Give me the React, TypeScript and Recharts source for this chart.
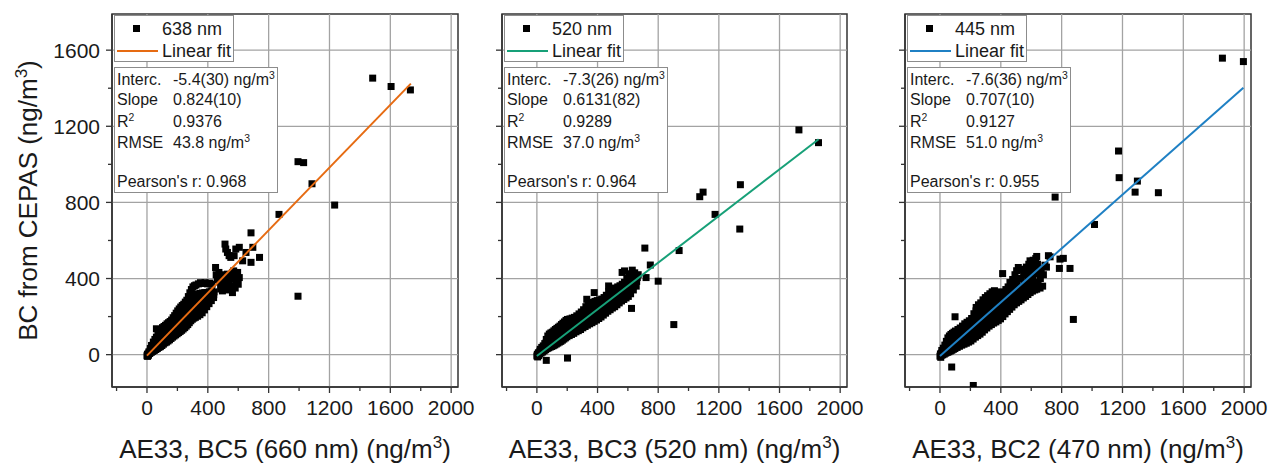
import React from 'react';
import { ScatterChart, Scatter, XAxis, YAxis, ReferenceLine, ReferenceArea } from 'recharts';

type Pt = [number, number];

const FONT = '"Liberation Sans", Arial, sans-serif';

// ---------- axis settings ----------
const X_DOMAIN: [number, number] = [-230, 2045];
const Y_DOMAIN: [number, number] = [-170, 1790];
const xTicks = [-200, 0, 200, 400, 600, 800, 1000, 1200, 1400, 1600, 1800, 2000];
const yTicks = [0, 200, 400, 600, 800, 1000, 1200, 1400, 1600];
const xMajor = [0, 400, 800, 1200, 1600, 2000];
const yMajor = [0, 400, 800, 1200, 1600];

// ---------- data: 638 nm vs BC5 ----------
const pts638: Pt[] = [
  [0,-6],[3,2],[4,-9],[8,4],[10,-3],[12,14],[18,6],[20,18],[22,32],[28,12],[31,28],[30,48],
  [38,17],[41,35],[40,50],[42,66],[48,22],[50,44],[51,62],[52,80],[58,27],[61,52],[60,72],[62,92],[62,136],
  [68,32],[69,48],[70,62],[71,84],[72,104],[78,38],[79,56],[81,74],[80,98],[82,120],
  [88,42],[89,62],[90,84],[91,108],[92,132],[98,48],[99,70],[101,94],[100,118],[102,142],
  [108,55],[109,78],[110,104],[111,126],[112,148],[118,62],[119,86],[121,112],[120,134],[122,154],
  [128,66],[129,92],[131,122],[130,142],[132,162],[138,72],[139,100],[140,130],[141,150],[142,168],
  [148,78],[149,108],[151,138],[150,158],[152,174],[158,85],[159,115],[160,146],[161,165],[162,182],
  [168,92],[169,122],[171,154],[170,175],[172,194],[178,98],[179,130],[180,162],[181,185],[182,205],
  [188,104],[189,136],[191,170],[190,195],[192,218],[198,110],[199,144],[200,178],[201,205],[202,230],
  [208,116],[209,150],[211,186],[210,214],[212,240],[218,122],[219,158],[220,194],[221,222],[222,250],
  [228,128],[229,165],[231,202],[230,230],[232,258],[238,135],[239,172],[240,210],[241,238],[242,265],
  [248,142],[249,180],[251,218],[250,248],[252,276],[258,150],[259,188],[260,226],[261,256],[262,286],
  [268,158],[269,196],[271,236],[270,270],[272,305],[278,168],[279,206],[280,246],[281,285],[282,325],
  [288,178],[289,216],[291,256],[290,300],[292,342],[298,186],[299,224],[300,262],[301,310],[302,356],
  [308,192],[309,230],[311,270],[310,315],[312,362],[318,196],[319,236],[320,276],[321,318],[322,366],
  [333,202],[334,240],[336,280],[335,318],[338,372],[348,210],[349,248],[351,288],[350,322],[352,378],
  [363,220],[364,256],[366,294],[365,324],[368,374],[378,235],[379,266],[381,300],[380,326],[382,378],
  [393,252],[394,278],[396,306],[395,326],[398,372],[408,268],[409,290],[411,312],[410,330],[412,376],
  [423,284],[424,300],[426,318],[425,334],[428,370],[438,300],[439,315],[441,330],
  [451,458],[455,420],[462,395],[470,400],[473,432],[480,380],[484,345],[490,360],[496,414],[496,335],
  [500,395],[505,370],[507,396],[510,420],[515,360],[520,400],[520,340],[529,423],[530,380],[540,388],
  [540,405],[545,355],[550,420],[560,400],[562,432],[562,326],[570,440],[573,361],[575,410],[580,350],
  [584,379],[585,420],[590,400],[595,395],[596,432],[600,370],[607,405],
  [513,581],[518,555],[529,537],[540,520],[551,511],[573,520],[584,555],[607,564],[629,493],
  [651,537],[684,485],[684,640],[696,564],[740,511],
  [868,737],[993,1014],[1030,1009],[1085,898],[1234,786],[993,307],[1484,1453],[1605,1409],[1732,1391],
];
const fit638: Pt[] = [[0, -5.4], [1735, 1424]];

// ---------- data: 520 nm vs BC3 ----------
const pts520: Pt[] = [
  [0,-7],[3,2],[5,-12],[8,0],[10,10],[12,-5],[18,4],[20,18],[22,28],[28,9],[31,22],[32,38],
  [38,14],[40,30],[42,46],[48,20],[51,36],[52,58],[58,26],[60,44],[61,62],[62,80],[62,-30],
  [68,32],[70,50],[71,74],[72,98],[78,36],[81,58],[80,84],[82,108],[88,40],[90,66],[91,90],[92,114],
  [98,43],[101,74],[100,96],[102,118],[108,47],[109,66],[111,82],[110,104],[112,125],
  [118,51],[119,70],[121,88],[120,110],[122,132],[128,56],[129,75],[131,94],[130,116],[132,138],
  [138,61],[139,80],[141,100],[140,122],[142,144],[148,66],[149,86],[151,106],[150,128],[152,150],
  [158,70],[159,90],[161,112],[160,135],[162,158],[168,76],[169,96],[171,118],[170,142],[172,165],
  [178,82],[179,102],[181,124],[180,148],[182,172],[188,88],[189,108],[191,130],[190,155],[192,180],
  [198,94],[199,114],[201,136],[200,160],[202,185],[202,-18],
  [213,100],[214,120],[216,142],[215,165],[218,188],[228,106],[229,126],[231,148],[230,170],[233,192],
  [243,112],[244,132],[246,154],[245,175],[248,196],[258,120],[259,140],[261,160],[260,182],[263,204],
  [273,126],[274,146],[276,166],[275,190],[278,214],[288,132],[289,152],[291,172],[290,198],[293,224],
  [303,141],[304,160],[306,180],[305,208],[308,236],[318,148],[319,168],[321,188],[320,220],[323,252],
  [333,155],[334,175],[336,196],[335,228],[338,262],[348,162],[349,182],[351,204],[350,236],[353,270],
  [329,291],[363,168],[364,190],[366,212],[365,244],[368,275],
  [378,175],[379,198],[381,220],[380,250],[383,280],[378,326],[393,182],[394,205],[396,228],[395,256],[398,284],
  [408,190],[409,212],[411,236],[410,262],[413,288],[423,198],[424,220],[426,244],[425,268],[428,292],
  [438,208],[439,230],[441,252],[440,276],[443,300],[453,218],[454,240],[456,260],[455,286],[458,312],
  [468,228],[469,248],[471,268],[470,300],[473,330],[473,361],
  [483,236],[484,256],[486,276],[485,306],[488,336],[498,245],[499,265],[501,284],[500,314],[503,342],
  [513,252],[514,272],[516,292],[515,320],[518,350],[528,262],[529,282],[531,300],[530,328],[533,356],
  [543,272],[544,292],[546,310],[545,336],[548,362],
  [558,282],[559,300],[561,320],[560,345],[563,370],[562,432],
  [573,290],[574,310],[576,330],[575,355],[578,380],[578,440],
  [588,298],[589,320],[591,345],[590,372],[593,400],
  [603,306],[604,330],[606,360],[605,390],[610,410],[608,425],
  [618,320],[619,345],[621,375],[620,400],[624,243],[629,444],
  [636,340],[637,362],[640,385],[641,410],[645,430],[651,388],
  [655,360],[658,385],[662,405],[668,420],
  [712,560],[748,471],[720,405],[800,386],[903,158],[938,547],[1096,854],[1074,830],
  [1342,893],[1175,737],[1338,660],[1728,1181],[1857,1114],
];
const fit520: Pt[] = [[0, -7.3], [1858, 1132]];

// ---------- data: 445 nm vs BC2 ----------
const pts445: Pt[] = [
  [0,-8],[3,4],[5,-14],[8,-4],[10,8],[12,22],[18,-1],[20,16],[22,34],[28,3],[31,24],[32,50],
  [38,8],[39,20],[40,32],[41,50],[42,70],[48,12],[49,26],[51,40],[50,62],[52,88],
  [58,15],[59,30],[61,48],[60,72],[62,98],[68,19],[69,36],[71,56],[70,80],[72,106],
  [78,23],[79,42],[81,62],[80,88],[82,112],[77,-65],[88,28],[89,48],[91,68],[90,94],[92,118],[99,199],
  [98,32],[99,52],[101,74],[100,100],[102,124],[113,38],[114,60],[116,82],[115,108],[118,132],
  [128,44],[129,66],[131,90],[130,116],[133,140],[143,50],[144,74],[146,98],[145,124],[148,150],
  [158,55],[159,80],[161,106],[160,134],[163,162],[173,60],[174,86],[176,114],[175,142],[178,170],
  [188,66],[189,94],[191,122],[190,150],[193,178],[203,72],[204,100],[206,130],[205,160],[208,190],
  [218,82],[219,110],[221,140],[220,178],[223,215],[219,-162],
  [233,92],[234,120],[236,150],[235,190],[237,230],[238,248],
  [248,100],[249,130],[251,160],[250,200],[252,240],[253,262],
  [263,108],[264,138],[266,170],[265,210],[267,245],[268,272],
  [278,118],[279,148],[281,180],[280,220],[282,255],[283,288],
  [293,130],[294,160],[296,192],[295,230],[297,265],[298,300],
  [308,140],[309,170],[311,202],[310,240],[312,275],[313,310],
  [323,150],[324,180],[326,212],[325,250],[327,285],[328,320],
  [338,158],[339,190],[341,222],[340,260],[342,295],[343,330],
  [353,166],[354,198],[356,232],[355,268],[357,302],[358,336],
  [368,172],[369,205],[371,240],[370,275],[372,305],[373,330],
  [383,180],[384,212],[386,248],[385,280],[387,305],[388,322],
  [398,188],[399,222],[401,256],[400,290],[403,320],[412,426],
  [413,200],[414,232],[416,264],[415,298],[418,330],[428,214],[429,244],[431,272],[430,308],[433,342],
  [443,226],[444,254],[446,282],[445,320],[448,356],[458,238],[459,265],[461,292],[460,335],[460,379],
  [473,250],[474,276],[476,304],[475,350],[478,395],[488,262],[489,290],[491,316],[490,365],[493,420],
  [503,272],[504,300],[506,328],[505,380],[504,441],[518,280],[519,310],[521,340],[520,400],[515,458],
  [533,288],[534,318],[536,352],[535,400],[538,445],[548,298],[549,330],[551,364],[550,420],[548,449],
  [563,306],[564,340],[566,376],[565,420],[568,460],[578,316],[579,350],[581,388],[580,430],[584,475],
  [593,326],[594,360],[596,400],[595,440],[592,493],[608,334],[609,370],[611,412],[610,455],[613,496],
  [623,340],[624,380],[626,424],[625,465],[630,505],[636,344],[637,380],[640,436],[641,475],[636,516],
  [645,380],[658,350],[660,400],[662,430],[665,448],[675,360],[680,420],[690,470],[700,460],[713,520],
  [724,514],[789,502],[811,506],[785,453],[855,453],[877,185],[757,828],[1016,684],
  [1174,1070],[1178,930],[1298,912],[1283,854],[1436,851],[1857,1558],[1995,1540],
];
const fit445: Pt[] = [[0, -7.6], [1995, 1403]];

// ---------- labels ----------
const legendLabels = ['638 nm', '520 nm', '445 nm'];
const xTitles = ['AE33, BC5 (660 nm) (ng/m', 'AE33, BC3 (520 nm) (ng/m', 'AE33, BC2 (470 nm) (ng/m'];
const intercepts = ['-5.4(30)', '-7.3(26)', '-7.6(36)'];
const slopes = ['0.824(10)', '0.6131(82)', '0.707(10)'];
const r2s = ['0.9376', '0.9289', '0.9127'];
const rmses = ['43.8', '37.0', '51.0'];
const pearsons = ['0.968', '0.964', '0.955'];
const fitColors = ['#E66B12', '#17A078', '#1F80C4'];

const toXY = (a: Pt[]) => a.map(([x, y]) => ({ x, y }));

const Square = (p: any) => {
  if (p.cx == null || p.cy == null) return <g />;
  return <rect x={p.cx - 3.5} y={p.cy - 3.5} width={7} height={7} fill="#000" />;
};
const NoShape = () => <g />;

const XTick = (props: any) => {
  const { x, y, payload } = props;
  const v = payload.value;
  const major = v % 400 === 0;
  return (
    <g>
      <line x1={x} x2={x} y1={y} y2={y + (major ? 6 : 4)} stroke="#333" strokeWidth={1.3} />
      {major && (
        <text x={x} y={y + 28} textAnchor="middle" fontSize={21} fill="#1a1a1a" fontFamily={FONT}>
          {v}
        </text>
      )}
    </g>
  );
};

const makeYTick = (showLabels: boolean) => (props: any) => {
  const { x, y, payload } = props;
  const v = payload.value;
  const major = v % 400 === 0;
  return (
    <g>
      <line x1={x - (major ? 6 : 4)} x2={x} y1={y} y2={y} stroke="#333" strokeWidth={1.3} />
      {showLabels && major && (
        <text x={x - 12} y={y + 7.5} textAnchor="end" fontSize={21} fill="#1a1a1a" fontFamily={FONT}>
          {v}
        </text>
      )}
    </g>
  );
};

const Sup = ({ children }: { children: React.ReactNode }) => (
  <span style={{ fontSize: '0.65em', verticalAlign: '0.55em', lineHeight: 0 }}>{children}</span>
);

type PanelProps = {
  idx: number;
  left: number;
  yAxisWidth: number;
  plotWidth: number;
  marginRight: number;
  points: Pt[];
  fit: Pt[];
  showYLabels: boolean;
};

function Panel({ idx, left, yAxisWidth, plotWidth, marginRight, points, fit, showYLabels }: PanelProps) {
  const width = yAxisWidth + plotWidth + marginRight;
  const color = fitColors[idx];
  const boxLeft = yAxisWidth + 2;
  const rowStyle = (top: number): React.CSSProperties => ({
    position: 'absolute',
    top,
    left: 0,
    width: '100%',
    height: 18,
    lineHeight: '18px',
    whiteSpace: 'nowrap',
  });
  return (
    <div style={{ position: 'absolute', left, top: 0, width, height: 463 }}>
      <ScatterChart width={width} height={463} margin={{ top: 14, right: marginRight, bottom: 0, left: 0 }}>
        <XAxis
          type="number"
          dataKey="x"
          domain={X_DOMAIN}
          ticks={xTicks}
          interval={0}
          allowDataOverflow
          height={76}
          tickSize={0}
          tickMargin={0}
          tickLine={false}
          axisLine={{ stroke: '#333', strokeWidth: 1.5 }}
          tick={<XTick />}
          label={(lp: any) => {
            const vb = lp.viewBox || {};
            return (
              <text
                x={vb.x + vb.width / 2}
                y={vb.y + 71}
                textAnchor="middle"
                fontSize={26}
                fill="#1a1a1a"
                fontFamily={FONT}
              >
                {xTitles[idx]}
                <tspan dy={-10} fontSize={17}>3</tspan>
                <tspan dy={10}>)</tspan>
              </text>
            );
          }}
        />
        <YAxis
          type="number"
          dataKey="y"
          domain={Y_DOMAIN}
          ticks={yTicks}
          interval={0}
          allowDataOverflow
          width={yAxisWidth}
          tickSize={0}
          tickMargin={0}
          tickLine={false}
          axisLine={{ stroke: '#333', strokeWidth: 1.5 }}
          tick={makeYTick(showYLabels)}
          label={
            showYLabels
              ? (lp: any) => {
                  const vb = lp.viewBox || {};
                  const cx = vb.x + 37;
                  const cy = vb.y + vb.height / 2;
                  return (
                    <text
                      x={cx}
                      y={cy}
                      transform={`rotate(-90, ${cx}, ${cy})`}
                      textAnchor="middle"
                      fontSize={26}
                      fill="#1a1a1a"
                      fontFamily={FONT}
                    >
                      BC from CEPAS (ng/m
                      <tspan dy={-10} fontSize={17}>3</tspan>
                      <tspan dy={10}>)</tspan>
                    </text>
                  );
                }
              : undefined
          }
        />
        {xMajor.map((v) => (
          <ReferenceLine key={'gx' + v} x={v} stroke="#a3a3a3" strokeWidth={1.3} />
        ))}
        {yMajor.map((v) => (
          <ReferenceLine key={'gy' + v} y={v} stroke="#a3a3a3" strokeWidth={1.3} />
        ))}
        <ReferenceArea
          x1={X_DOMAIN[0]}
          x2={X_DOMAIN[1]}
          y1={Y_DOMAIN[0]}
          y2={Y_DOMAIN[1]}
          fill="none"
          fillOpacity={0}
          stroke="#333"
          strokeWidth={1.5}
        />
        <Scatter name={legendLabels[idx]} data={toXY(points)} shape={Square} isAnimationActive={false} />
        <Scatter
          name="Linear fit"
          data={toXY(fit)}
          line={{ stroke: color, strokeWidth: 2 }}
          shape={NoShape}
          isAnimationActive={false}
        />
      </ScatterChart>

      {/* legend */}
      <div
        style={{
          position: 'absolute',
          left: boxLeft,
          top: 15,
          width: 120,
          height: 47,
          boxSizing: 'border-box',
          border: '1px solid #8c8c8c',
          background: '#fff',
          fontFamily: FONT,
          fontSize: 18,
          color: '#1a1a1a',
        }}
      >
        <div style={{ position: 'absolute', left: 18, top: 9, width: 7, height: 7, background: '#000' }} />
        <div style={{ position: 'absolute', left: 47, top: 3, lineHeight: '20px', whiteSpace: 'nowrap' }}>
          {legendLabels[idx]}
        </div>
        <div style={{ position: 'absolute', left: 2, top: 34, width: 41, height: 2, background: color }} />
        <div style={{ position: 'absolute', left: 47, top: 25, lineHeight: '20px', whiteSpace: 'nowrap' }}>
          Linear fit
        </div>
      </div>

      {/* fit statistics */}
      <div
        style={{
          position: 'absolute',
          left: boxLeft,
          top: 67,
          width: 164,
          height: 126,
          boxSizing: 'border-box',
          border: '1px solid #8c8c8c',
          background: '#fff',
          fontFamily: FONT,
          fontSize: 16,
          color: '#1a1a1a',
        }}
      >
        <div style={rowStyle(3)}>
          <span style={{ position: 'absolute', left: 2 }}>Interc.</span>
          <span style={{ position: 'absolute', left: 58 }}>
            {intercepts[idx]} ng/m<Sup>3</Sup>
          </span>
        </div>
        <div style={rowStyle(23)}>
          <span style={{ position: 'absolute', left: 2 }}>Slope</span>
          <span style={{ position: 'absolute', left: 58 }}>{slopes[idx]}</span>
        </div>
        <div style={rowStyle(45)}>
          <span style={{ position: 'absolute', left: 2 }}>
            R<Sup>2</Sup>
          </span>
          <span style={{ position: 'absolute', left: 58 }}>{r2s[idx]}</span>
        </div>
        <div style={rowStyle(66)}>
          <span style={{ position: 'absolute', left: 2 }}>RMSE</span>
          <span style={{ position: 'absolute', left: 58 }}>
            {rmses[idx]} ng/m<Sup>3</Sup>
          </span>
        </div>
        <div style={rowStyle(105)}>
          <span style={{ position: 'absolute', left: 2 }}>Pearson's r: {pearsons[idx]}</span>
        </div>
      </div>
    </div>
  );
}

export default function App() {
  return (
    <div
      style={{
        position: 'absolute',
        left: 0,
        top: 0,
        width: 1268,
        height: 463,
        background: '#fff',
        overflow: 'hidden',
      }}
    >
      <Panel idx={0} left={0} yAxisWidth={112} plotWidth={346} marginRight={26} points={pts638} fit={fit638} showYLabels />
      <Panel idx={1} left={490} yAxisWidth={12} plotWidth={345} marginRight={26} points={pts520} fit={fit520} showYLabels={false} />
      <Panel idx={2} left={893} yAxisWidth={12} plotWidth={346} marginRight={17} points={pts445} fit={fit445} showYLabels={false} />
    </div>
  );
}
